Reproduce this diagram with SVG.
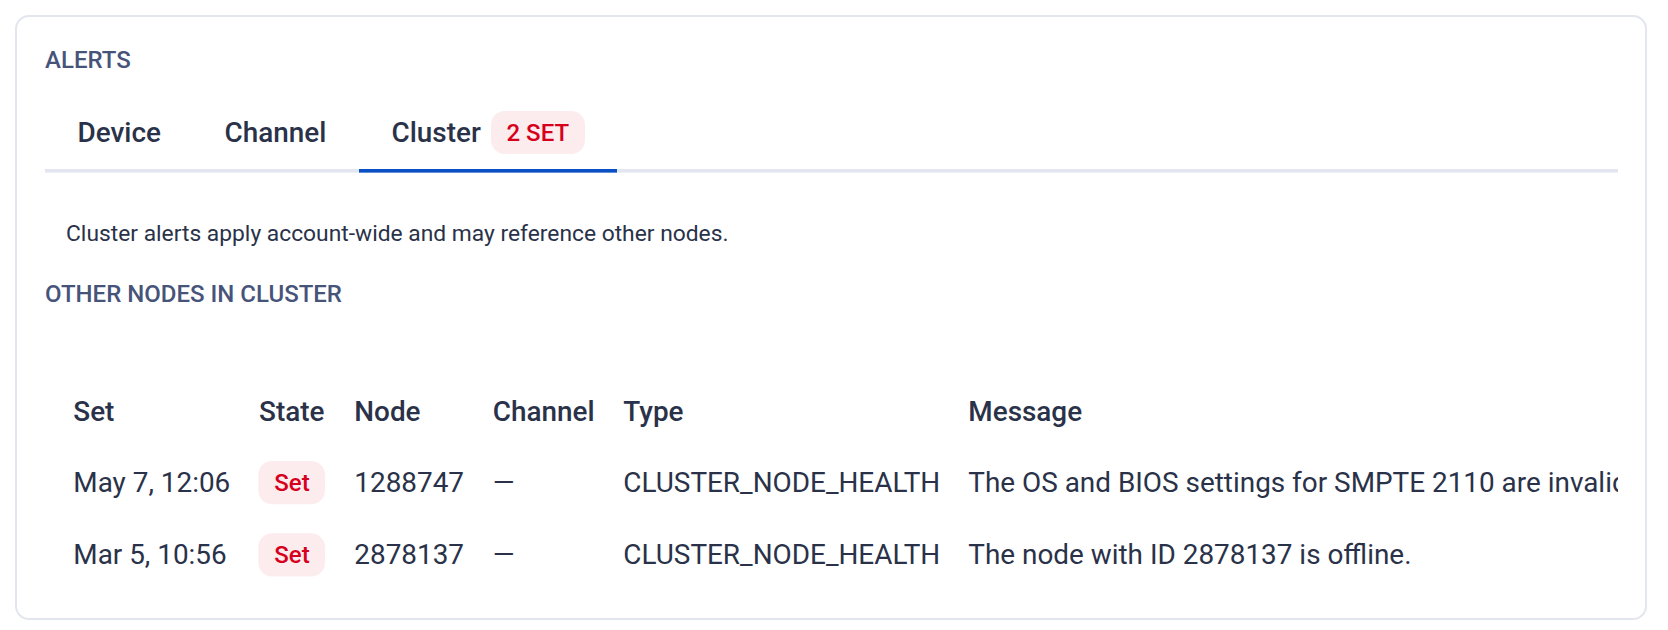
<svg xmlns="http://www.w3.org/2000/svg" width="1668" height="630" viewBox="0 0 1668 630">
<style>
text{font-family:Roboto,"Liberation Sans",sans-serif;}
.h{font-size:24px;font-weight:500;fill:#47547a;}
.tab{font-size:27.9px;font-weight:500;fill:#2a3249;}
.desc{font-size:22.8px;fill:#2a3249;}
.th{font-size:27.9px;font-weight:500;fill:#2a3249;}
.td{font-size:27.9px;fill:#2a3249;}
.bdg{fill:#fdeced;}
.bt{font-size:24px;font-weight:500;fill:#d6001c;}
</style>
<defs>
<clipPath id="tclip"><rect x="40" y="380" width="1578" height="220"/></clipPath>
</defs>
<rect x="0" y="0" width="1668" height="630" fill="#ffffff"/>
<g id="card">
<rect x="16" y="16" width="1630" height="603" rx="13" fill="#ffffff" stroke="#e3e6ee" stroke-width="2"/>
</g>
<g id="title"><text class="h" x="45" y="68">ALERTS</text></g>
<g id="tabs">
<rect x="45" y="169" width="1573" height="3.6" fill="#e3e6f0"/>
<rect x="359" y="169" width="258" height="3.6" fill="#0a4fc4"/>
<g id="tab-device"><text class="tab" x="77.5" y="141.5">Device</text></g>
<g id="tab-channel"><text class="tab" x="224.5" y="141.5">Channel</text></g>
<g id="tab-cluster"><text class="tab" x="391.5" y="141.5">Cluster</text>
<rect class="bdg" x="491" y="111" width="94" height="43" rx="14"/>
<text class="bt" x="506.5" y="141">2 SET</text></g>
</g>
<g id="description"><text class="desc" x="66" y="240.5">Cluster alerts apply account-wide and may reference other nodes.</text></g>
<g id="subtitle"><text class="h" x="45" y="301.5">OTHER NODES IN CLUSTER</text></g>
<g id="table" clip-path="url(#tclip)">
<g id="header">
<text class="th" x="73.3" y="420.7">Set</text>
<text class="th" x="259" y="420.7">State</text>
<text class="th" x="354.3" y="420.7">Node</text>
<text class="th" x="492.7" y="420.7">Channel</text>
<text class="th" x="623.3" y="420.7">Type</text>
<text class="th" x="968.3" y="420.7">Message</text>
</g>
<g id="row1">
<text class="td" x="73.3" y="491.7">May 7, 12:06</text>
<rect class="bdg" x="258.3" y="461" width="66.7" height="43.3" rx="14"/>
<text class="bt" x="274.3" y="490.7">Set</text>
<text class="td" x="354.3" y="491.7">1288747</text>
<text class="td" x="492.7" y="491.7">—</text>
<text class="td" x="623.3" y="491.7">CLUSTER_NODE_HEALTH</text>
<text class="td" x="968.3" y="491.7">The OS and BIOS settings for SMPTE 2110 are invalid.</text>
</g>
<g id="row2">
<text class="td" x="73.3" y="564">Mar 5, 10:56</text>
<rect class="bdg" x="258.3" y="533.3" width="66.7" height="43.3" rx="14"/>
<text class="bt" x="274.3" y="563">Set</text>
<text class="td" x="354.3" y="564">2878137</text>
<text class="td" x="492.7" y="564">—</text>
<text class="td" x="623.3" y="564">CLUSTER_NODE_HEALTH</text>
<text class="td" x="968.3" y="564">The node with ID 2878137 is offline.</text>
</g>
</g>
<g id="connectors"></g>
</svg>
